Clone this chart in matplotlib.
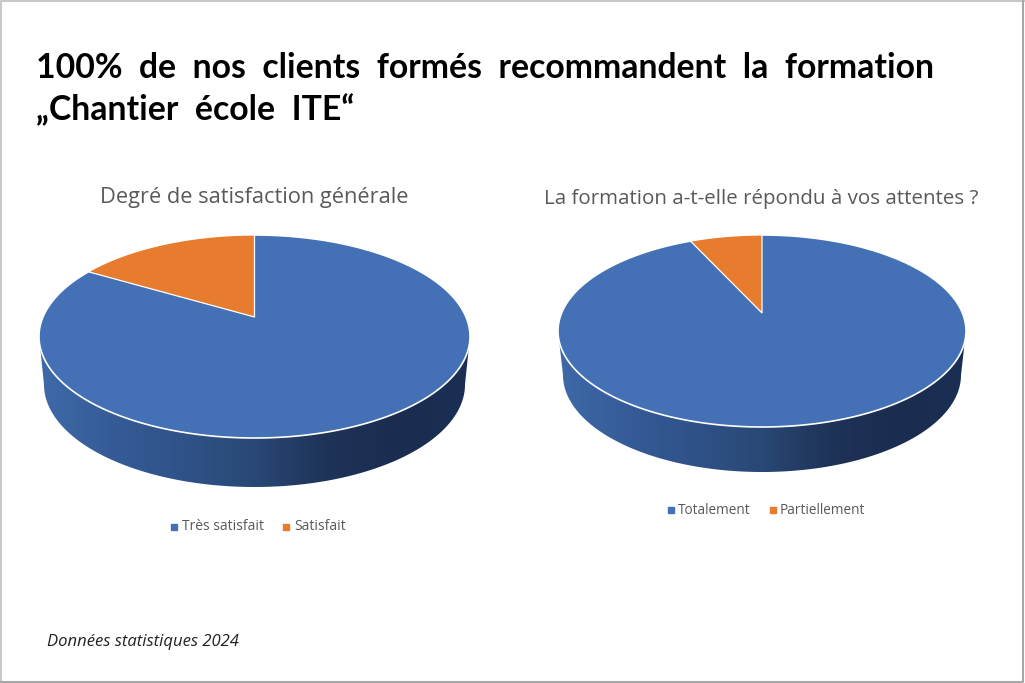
import numpy as np
import matplotlib
matplotlib.use('Agg')
import matplotlib.pyplot as plt
from matplotlib.colors import LinearSegmentedColormap
from matplotlib.lines import Line2D
from matplotlib.patches import Polygon

W, H = 1025, 683

# double spaces: the title is set with wide word gaps
TITLE_LINES = ['100%  de  nos  clients  formés  recommandent  la  formation', '\u201eChantier  école  ITE\u201c']
FOOTNOTE = 'Données statistiques 2024'

LEFT_TITLE = 'Degré de satisfaction générale'
LEFT_LABELS = ['Très satisfait', 'Satisfait']
LEFT_VALUES = [86, 14]

RIGHT_TITLE = 'La formation a-t-elle répondu à vos attentes ?'
RIGHT_LABELS = ['Totalement', 'Partiellement']
RIGHT_VALUES = [94.3, 5.7]

BLUE = '#4470B5'
ORANGE = '#E87C2E'
GREY = '#595959'
side_cmap = LinearSegmentedColormap.from_list(
    'side', ['#3F69A8', '#355C98', '#2F5288', '#294875', '#1E3358', '#1A2D50', '#1B2F54'])


def draw_pie(fig, box, apex_y, depth, values):
    # box is the top face in pixels: left, right, top, bottom
    left, right, top, bottom = box
    rx = (right - left) / 2
    ry = (bottom - top) / 2
    cx = (left + right) / 2
    cy = (top + bottom) / 2
    ax_bottom = bottom + depth + 6
    ax = fig.add_axes([(left - 6) / W, 1 - ax_bottom / H, (right - left + 12) / W, (ax_bottom - top + 6) / H])
    ax.axis('off')

    # side wall, the base is a bit narrower than the top face
    t = np.linspace(0, np.pi, 200)
    base_rx = rx - 5
    base_cy = cy + depth - 2
    side = np.column_stack([cx + base_rx * np.cos(t), base_cy + (ry + 1) * np.sin(t)])
    side = np.vstack([[right, cy], side, [left, cy]])
    patch = Polygon(side, closed=True, facecolor='none', edgecolor='none')
    ax.add_patch(patch)
    grad = np.linspace(0, 1, 256).reshape(1, -1)
    im = ax.imshow(grad, cmap=side_cmap, extent=[left, right, ax_bottom, cy], aspect='auto', zorder=1)
    im.set_clip_path(patch)
    ax.set_xlim(left - 6, right + 6)
    ax.set_ylim(ax_bottom, top - 6)

    # top face
    t = np.linspace(0, 2 * np.pi, 400)
    ax.fill(cx + rx * np.cos(t), cy + ry * np.sin(t), facecolor=BLUE, edgecolor='white', linewidth=1.2, zorder=2)

    # small slice, running back from 12 o'clock
    ang = np.linspace(0, values[1] / sum(values) * 2 * np.pi, 60)
    xs = np.r_[cx, cx - rx * np.sin(ang)]
    ys = np.r_[apex_y, cy - ry * np.cos(ang)]
    ax.fill(xs, ys, facecolor=ORANGE, edgecolor='white', linewidth=0.9, zorder=3)
    return ax


def add_legend(fig, labels, x_marks, x_texts, y, size):
    for label, xm, xt, color in zip(labels, x_marks, x_texts, [BLUE, ORANGE]):
        fig.add_artist(Line2D([xm / W], [1 - y / H], marker='s', markersize=4, color=color, linestyle='none'))
        fig.text(xt / W, 1 - y / H, label, fontsize=size, color=GREY, family='Open Sans', va='center', ha='left')


fig = plt.figure(figsize=(W / 100, H / 100), dpi=100, facecolor='white')

draw_pie(fig, (39, 470, 235, 438), 317, 50, LEFT_VALUES)
draw_pie(fig, (558, 966, 235, 427), 313, 46, RIGHT_VALUES)

fig.text(36 / W, 1 - 78.5 / H, TITLE_LINES[0], fontsize=24.3, fontweight='bold', family='Lato', color='black', va='baseline')
fig.text(36 / W, 1 - 120.5 / H, TITLE_LINES[1], fontsize=24.3, fontweight='bold', family='Lato', color='black', va='baseline')

fig.text(254 / W, 1 - 198 / H, LEFT_TITLE, fontsize=15.7, color=GREY, family='Open Sans', ha='center', va='center')
fig.text(761 / W, 1 - 199 / H, RIGHT_TITLE, fontsize=14.75, color=GREY, family='Open Sans', ha='center', va='center')

add_legend(fig, LEFT_LABELS, [174, 286], [182, 294], 527, 10)
add_legend(fig, RIGHT_LABELS, [671, 773], [678, 780], 510, 9.85)

fig.text(47 / W, 1 - 642 / H, FOOTNOTE, fontsize=12, style='italic', family='Open Sans', color='#222222', va='center')

# picture frame: light on the left and top, darker on the bottom and right
fig.add_artist(Line2D([0.001, 0.001, 1], [0, 0.999, 0.999], color='#C8C8C8', linewidth=1.5))
fig.add_artist(Line2D([0, 0.998, 0.998], [0.002, 0.002, 1], color='#A8A8A8', linewidth=1.5))

fig.savefig('out.png', dpi=100, facecolor='white')
